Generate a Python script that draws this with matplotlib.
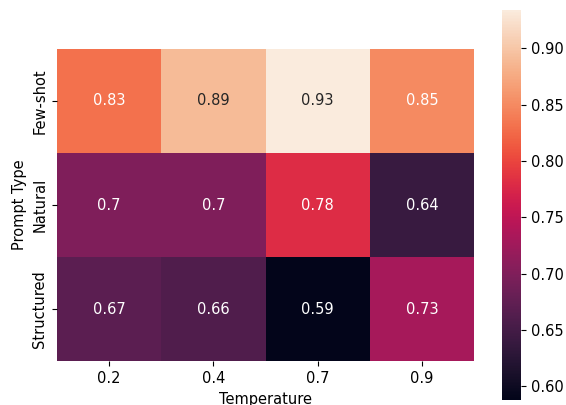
import matplotlib
matplotlib.use("Agg")
import matplotlib.pyplot as plt
import numpy as np
import pandas as pd
import seaborn as sns

temperatures = ["0.2", "0.4", "0.7", "0.9"]
prompt_types = ["Few-shot", "Natural", "Structured"]
few_shot = [0.83, 0.89, 0.934, 0.85]
natural = [0.70, 0.70, 0.78, 0.64]
structured = [0.67, 0.66, 0.588, 0.73]

plt.rcParams['font.size'] = 10.5

df = pd.DataFrame([few_shot, natural, structured], index=prompt_types, columns=temperatures)
df.index.name = "Prompt Type"
df.columns.name = "Temperature"

fig = plt.figure(figsize=(5.66, 4.05), dpi=100)
ax = fig.add_axes([57 / 566, 5 / 405, 417 / 566, 390 / 405])
cax = fig.add_axes([502 / 566, 5 / 405, 19 / 566, 390 / 405])

sns.heatmap(df, annot=True, square=True, ax=ax, cbar_ax=cax)

fig.savefig("out.png", dpi=100)
